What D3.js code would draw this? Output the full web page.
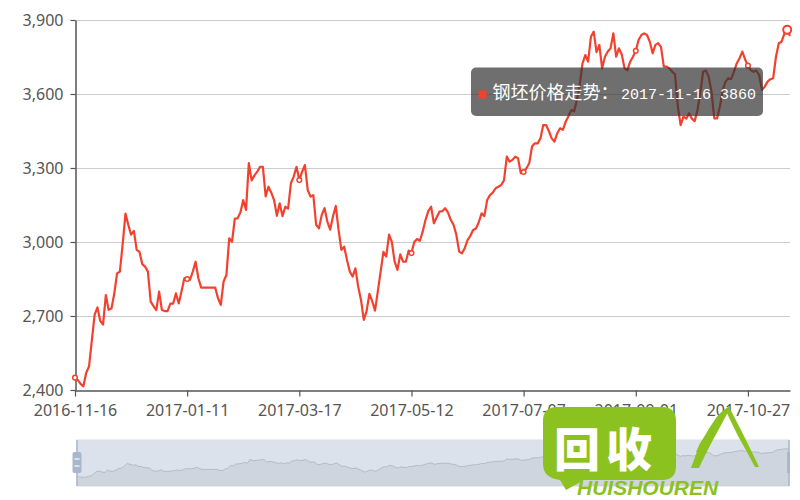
<!DOCTYPE html>
<html><head><meta charset="utf-8">
<script src="https://cdn.jsdelivr.net/npm/d3@7/dist/d3.min.js"></script>
<style>body{margin:0;background:#fff;} svg{display:block}</style>
</head><body>
<svg id="chart" width="800" height="500"></svg>
<script>
const seriesName = "钢坯价格走势";
const firstDay = "2016-11-16";
const lastDay = "2017-11-17";
const closedDays = ["2017-01-26","2017-01-27","2017-01-30","2017-01-31","2017-02-01","2017-02-02","2017-02-03"];
const tickLabels = ["2016-11-16","2017-01-11","2017-03-17","2017-05-12","2017-07-07","2017-09-01","2017-10-27"];
const yTicks = [2400, 2700, 3000, 3300, 3600, 3900];
const prices = [
2450,2440,2425,2415,2470,2495,2600,2705,2735,2680,
2665,2785,2725,2730,2790,2873,2880,2990,3115,3070,
3030,3045,2968,2960,2910,2900,2880,2758,2740,2724,
2799,2724,2720,2720,2750,2750,2792,2751,2800,2853,
2850,2846,2880,2920,2853,2815,2815,2815,2815,2815,
2815,2772,2745,2840,2866,3015,3001,3095,3096,3120,
3170,3130,3320,3250,3270,3285,3305,3305,3185,3224,
3200,3170,3106,3157,3105,3143,3135,3238,3265,3305,
3251,3285,3312,3211,3184,3190,3070,3055,3110,3137,
3083,3050,3103,3146,3049,2968,2981,2927,2880,2860,
2893,2819,2765,2684,2720,2790,2760,2722,2800,2880,
2960,2941,3030,3000,2920,2887,2950,2920,2920,2965,
2955,3000,3012,3005,3042,3089,3125,3143,3076,3100,
3123,3125,3137,3120,3090,3070,3030,2961,2954,2975,
3008,3025,3049,3055,3080,3116,3105,3170,3190,3200,
3218,3224,3231,3250,3346,3326,3333,3346,3340,3279,
3284,3299,3319,3387,3400,3400,3420,3474,3474,3450,
3420,3407,3441,3461,3455,3488,3510,3535,3530,3576,
3637,3724,3758,3731,3832,3853,3770,3799,3704,3751,
3772,3785,3846,3751,3785,3760,3704,3697,3731,3751,
3775,3819,3839,3846,3839,3812,3765,3799,3806,3790,
3711,3711,3704,3690,3680,3549,3474,3508,3500,3522,
3500,3490,3535,3603,3690,3695,3670,3610,3501,3501,
3549,3616,3650,3664,3660,3690,3724,3745,3772,3740,
3715,3697,3690,3695,3677,3616,3630,3650,3660,3664,
3751,3806,3812,3845,3860,3835
];
const tooltipDate = "2017-11-16";
const watermarkMark = "回收";
const watermarkWord = "HUISHOUREN";

// trading-day categories
const dates = [];
for (let d = new Date(firstDay + "T00:00:00Z"); d <= new Date(lastDay + "T00:00:00Z"); d.setUTCDate(d.getUTCDate() + 1)) {
  const wd = d.getUTCDay();
  const s = d.toISOString().slice(0, 10);
  if (wd === 0 || wd === 6 || closedDays.includes(s)) continue;
  dates.push(s);
}
const data = dates.map((dt, i) => ({date: dt, value: prices[i]})).filter(d => d.value !== undefined);

const lineColor = "#f3412f";
const textColor = "#555";
const svg = d3.select("#chart");

const x = d3.scalePoint().domain(data.map(d => d.date)).range([75, 790]);
const y = d3.scaleLinear().domain([2400, 3900]).range([390, 20]);

// grid
svg.append("g").selectAll("line").data(yTicks.slice(1)).join("line")
  .attr("x1", 75).attr("x2", 790)
  .attr("y1", d => Math.round(y(d)) + 0.5).attr("y2", d => Math.round(y(d)) + 0.5)
  .attr("stroke", "#ccc").attr("stroke-width", 1);

// y axis
const yAxis = svg.append("g").attr("transform", "translate(75.5,0)")
  .call(d3.axisLeft(y).tickValues(yTicks).tickFormat(d3.format(",")).tickSize(5).tickSizeOuter(0).tickPadding(7));
// x axis
const xAxis = svg.append("g").attr("transform", "translate(0,390.5)")
  .call(d3.axisBottom(x).tickValues(tickLabels).tickSize(6).tickSizeOuter(0).tickPadding(8));
[yAxis, xAxis].forEach(g => {
  g.select(".domain").attr("stroke", "#555").attr("stroke-width", 1.5);
  g.selectAll(".tick line").attr("stroke", "#555").attr("stroke-width", 1.2);
  g.selectAll(".tick text").attr("fill", textColor)
    .style("font-family", "'Noto Sans', 'Liberation Sans', sans-serif").style("font-size", "16px");
});

// line
const line = d3.line().x(d => x(d.date)).y(d => y(d.value));
svg.append("path").datum(data).attr("d", line)
  .attr("fill", "none").attr("stroke", lineColor).attr("stroke-width", 2.2)
  .attr("stroke-linejoin", "round");

// symbols at label points
svg.append("g").selectAll("circle").data(data.filter(d => tickLabels.includes(d.date))).join("circle")
  .attr("cx", d => x(d.date)).attr("cy", d => y(d.value)).attr("r", 2.3)
  .attr("fill", "#fff").attr("stroke", lineColor).attr("stroke-width", 1.5);

// hovered point
const hov = data.find(d => d.date === tooltipDate);
svg.append("circle").attr("cx", x(hov.date)).attr("cy", y(hov.value)).attr("r", 4)
  .attr("fill", "#fff").attr("stroke", lineColor).attr("stroke-width", 2);

// tooltip
const tip = svg.append("g");
tip.append("rect").attr("x", 471).attr("y", 67.5).attr("width", 292).attr("height", 48.5).attr("rx", 5)
  .attr("fill", "rgba(50,50,50,0.7)");
tip.append("rect").attr("x", 478.5).attr("y", 90.5).attr("width", 8).attr("height", 8).attr("fill", lineColor);
const tt = tip.append("text").attr("x", 492.5).attr("y", 99).attr("fill", "#fff");
tt.append("tspan").style("font-family", "'Noto Sans CJK SC', sans-serif").style("font-size", "18px").text(seriesName + "：");
tt.append("tspan").attr("x", 621).style("font-family", "'Liberation Mono', 'DejaVu Sans Mono', monospace").style("font-size", "15px")
  .text(hov.date + " " + hov.value);

// data zoom slider
const sx = d3.scalePoint().domain(data.map(d => d.date)).range([77, 789]);
const ext = d3.extent(data, d => d.value);
const pad = (ext[1] - ext[0]) * 0.3;
const sy = d3.scaleLinear().domain([ext[0] - pad, ext[1] + pad]).range([486, 440]);
const slider = svg.append("g");
slider.append("rect").attr("x", 77).attr("y", 440).attr("width", 712).attr("height", 46)
  .attr("fill", "rgba(167,183,204,0.4)").attr("stroke", "#ddd").attr("stroke-width", 1);
slider.append("path").datum(data)
  .attr("d", d3.area().x(d => sx(d.date)).y0(486).y1(d => sy(d.value)))
  .attr("fill", "rgba(47,69,84,0.08)");
slider.append("path").datum(data)
  .attr("d", d3.line().x(d => sx(d.date)).y(d => sy(d.value)))
  .attr("fill", "none").attr("stroke", "rgba(47,69,84,0.25)").attr("stroke-width", 0.8);
[77, 789].forEach((hx, k) => {
  slider.append("line").attr("x1", hx).attr("x2", hx).attr("y1", 440).attr("y2", 486)
    .attr("stroke", "#a7b7cc").attr("stroke-width", 1.5);
  if (k === 0) {
    slider.append("rect").attr("x", hx - 4.5).attr("y", 452).attr("width", 9).attr("height", 21).attr("rx", 2)
      .attr("fill", "#a7b7cc");
    [459, 466].forEach(ly => slider.append("line").attr("x1", hx - 2.5).attr("x2", hx + 2.5)
      .attr("y1", ly).attr("y2", ly).attr("stroke", "#fff").attr("stroke-width", 1.2));
  } else {
    slider.append("rect").attr("x", hx - 2).attr("y", 452).attr("width", 3).attr("height", 21)
      .attr("fill", "#a7b7cc");
  }
});

// watermark logo
const green = "#8cc21f";
const wm = svg.append("g");
wm.append("path").attr("d", "M557,407 H662 Q676,407 676,421 V466 Q676,480 662,480 H584 L566,490 L560,480 Q543,478 543,464 V421 Q543,407 557,407 Z")
  .attr("fill", green);
wm.append("text").attr("x", 554).attr("y", 446).attr("dominant-baseline", "central")
  .attr("fill", "#fff").style("font-family", "'Noto Sans CJK SC', sans-serif").style("font-weight", 900)
  .style("font-size", "46px").style("letter-spacing", "6px").text(watermarkMark);
wm.append("text").attr("x", 577).attr("y", 495).attr("fill", green)
  .style("font-family", "'Liberation Sans', sans-serif").style("font-weight", "bold").style("font-style", "italic")
  .style("font-size", "21px").text(watermarkWord);
// stylised "A" mark
wm.append("path").attr("d", "M691,468 Q700,440 716,418 Q724,408 731,406 Q724,420 714,438 Q705,455 699,468 Z").attr("fill", green);
wm.append("path").attr("d", "M696,452 Q703,434 717,424 L716,430 Q707,440 700,454 Z").attr("fill", green);
wm.append("path").attr("d", "M729,407 Q736,420 744,436 Q752,452 759,467 L755,467 Q746,450 738,436 Q731,422 726,411 Z").attr("fill", green);
</script>
</body></html>
